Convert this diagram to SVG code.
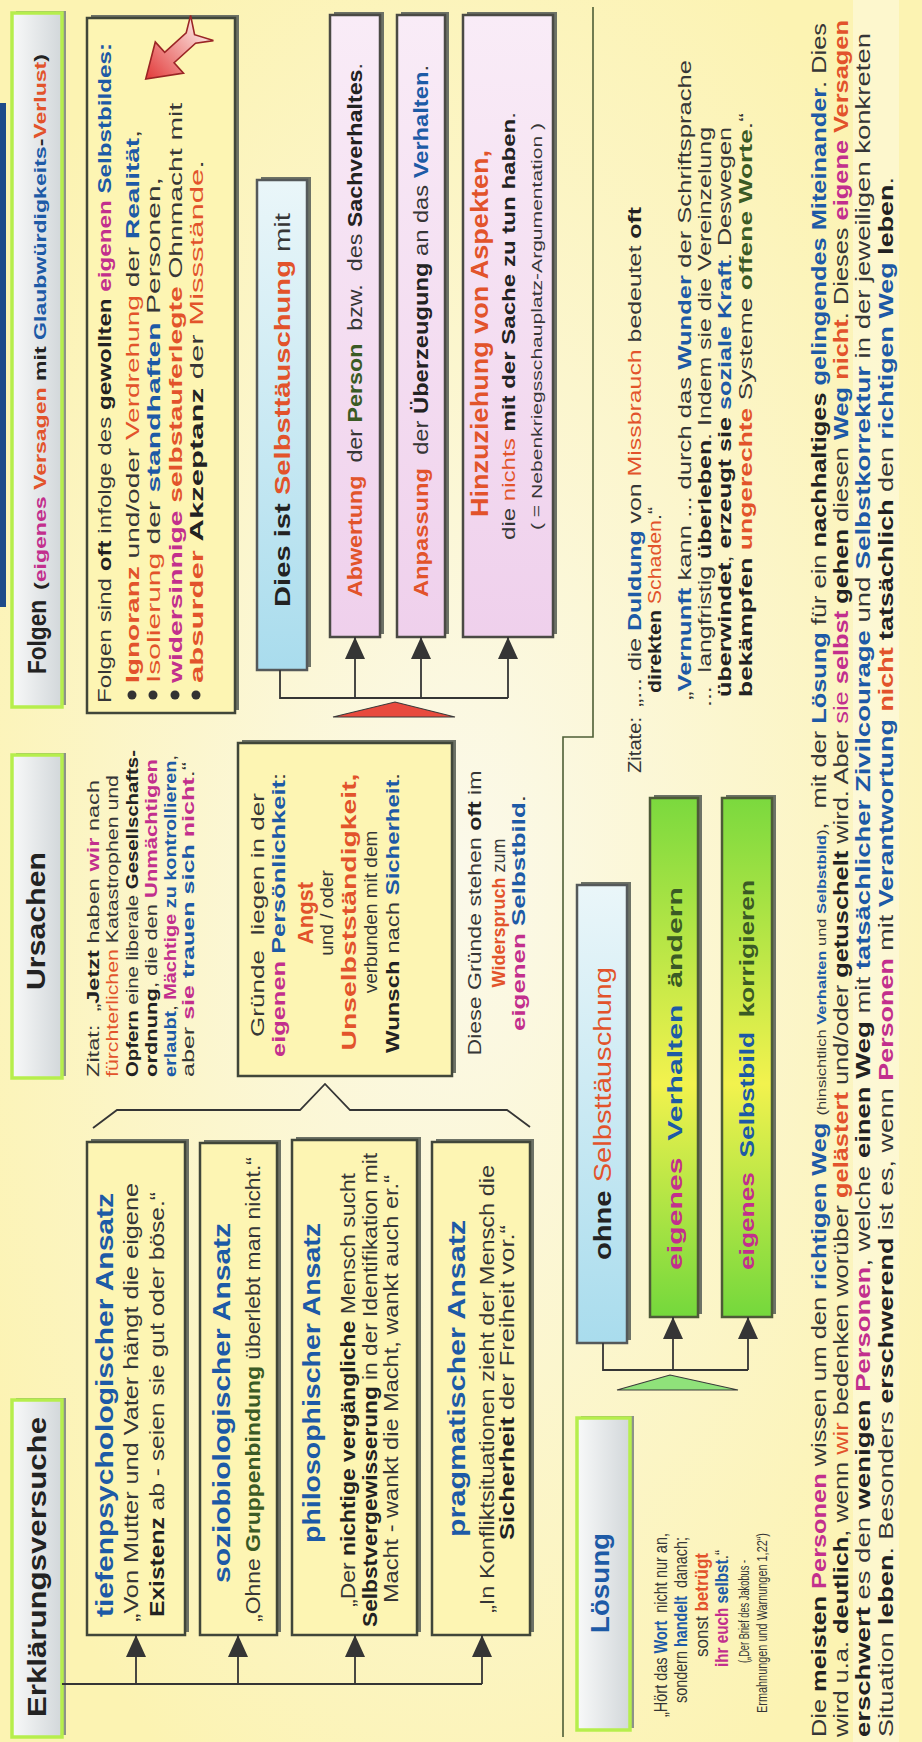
<svg xmlns="http://www.w3.org/2000/svg" width="922" height="1742" viewBox="0 0 922 1742">
<defs>
<style>
text{font-family:"Liberation Sans",Arial,sans-serif;fill:#363636;white-space:pre}
.b{font-weight:bold}
.dk{fill:#222}
.bl{fill:#1d5aa6}
.mg{fill:#c22f8d}
.or{fill:#e2532b}
.gr{fill:#3a5a25}
.box{fill:#fdf5b3;stroke:#40463a;stroke-width:2.5}
.shd{fill:#6d7266}
.tbox{fill:url(#gTitle);stroke:#b6ee4c;stroke-width:3.5}
.tshd{fill:#8d9288}
.pbox{fill:url(#gPink);stroke:#4a4a44;stroke-width:2.5}
.cbox{fill:url(#gCyan);stroke:#55595a;stroke-width:2.5}
.gbox{fill:url(#gGreen);stroke:#4d5a38;stroke-width:2.5}
.ln{fill:none;stroke:#353535;stroke-width:1.8}
.arr{fill:none;stroke:#353535;stroke-width:1.8;marker-end:url(#ah)}
.div{fill:none;stroke:#4e5e36;stroke-width:1.6}
</style>
<marker id="ah" viewBox="0 0 22 20" refX="22" refY="10" markerWidth="22" markerHeight="20" markerUnits="userSpaceOnUse" orient="auto">
<path d="M0,0 L22,10 L0,20 z" fill="#353535"/>
</marker>
<linearGradient id="gTitle" x1="0" y1="0" x2="0" y2="1"><stop offset="0" stop-color="#f8f9f9"/><stop offset="1" stop-color="#d2d7da"/></linearGradient>
<linearGradient id="gCyan" x1="0" y1="0" x2="1" y2="0"><stop offset="0" stop-color="#a9dced"/><stop offset="1" stop-color="#eaf6f9"/></linearGradient>
<linearGradient id="gPink" x1="0" y1="0" x2="1" y2="0"><stop offset="0" stop-color="#efd0ec"/><stop offset="1" stop-color="#f9ecf7"/></linearGradient>
<linearGradient id="gGreen" x1="0" y1="0" x2="1" y2="0"><stop offset="0" stop-color="#74d83c"/><stop offset="0.45" stop-color="#f2f24e"/><stop offset="1" stop-color="#7bd93e"/></linearGradient>
<linearGradient id="gArrow" x1="0" y1="0" x2="1" y2="0"><stop offset="0" stop-color="#fbe2de"/><stop offset="1" stop-color="#e23838"/></linearGradient>
<radialGradient id="gBg" cx="0.5" cy="0.5" r="0.6"><stop offset="0" stop-color="#fbf9ea"/><stop offset="1" stop-color="#fcf3b2"/></radialGradient>
</defs>

<g transform="translate(0,1742) rotate(-90)">
<rect x="0" y="0" width="1742" height="922" fill="url(#gBg)"/>
<rect x="0" y="853" width="1742" height="46" fill="#ffffff" opacity="0.35"/>
<rect x="1135" y="0" width="504" height="6" fill="#1e4a8a"/>

<!-- Erklärungsversuche -->
<g id="title-erklaerung">
<rect x="7" y="16" width="337" height="50" class="tshd"/>
<rect x="5" y="12" width="337" height="50" class="tbox"/>
<text x="25" y="46" font-size="26" class="b dk" textLength="300" lengthAdjust="spacingAndGlyphs">Erklärungsversuche</text>
</g>

<g id="tiefen">
<rect x="110" y="91" width="493" height="98" class="shd"/>
<rect x="107" y="87" width="493" height="98" class="box"/>
<text x="125" y="113" font-size="23" class="b bl" textLength="424" lengthAdjust="spacingAndGlyphs">tiefenpsychologischer Ansatz</text>
<text x="120" y="138" font-size="20" textLength="439" lengthAdjust="spacingAndGlyphs">„Von Mutter und Vater hängt die eigene</text>
<text x="125" y="164" font-size="20" textLength="425" lengthAdjust="spacingAndGlyphs"><tspan class="b dk">Existenz</tspan> ab - seien sie gut oder böse.“</text>
</g>

<g id="sozio">
<rect x="110" y="204" width="492" height="77" class="shd"/>
<rect x="107" y="200" width="492" height="77" class="box"/>
<text x="159" y="230" font-size="23" class="b bl" textLength="360" lengthAdjust="spacingAndGlyphs">soziobiologischer Ansatz</text>
<text x="120" y="260" font-size="20" textLength="465" lengthAdjust="spacingAndGlyphs">„Ohne <tspan class="b gr">Gruppenbindung</tspan> überlebt man nicht.“</text>
</g>

<g id="philo">
<rect x="110" y="296" width="495" height="125" class="shd"/>
<rect x="107" y="292" width="495" height="125" class="box"/>
<text x="199" y="320" font-size="23" class="b bl" textLength="320" lengthAdjust="spacingAndGlyphs">philosophischer Ansatz</text>
<text x="135" y="355" font-size="20" textLength="434" lengthAdjust="spacingAndGlyphs">„Der <tspan class="b dk">nichtige vergängliche</tspan> Mensch sucht</text>
<text x="115" y="377" font-size="20" textLength="474" lengthAdjust="spacingAndGlyphs"><tspan class="b dk">Selbstvergewisserung</tspan> in der Identifikation mit</text>
<text x="139" y="398" font-size="20" textLength="428" lengthAdjust="spacingAndGlyphs">Macht - wankt die Macht, wankt auch er.“</text>
</g>

<g id="prag">
<rect x="110" y="436" width="493" height="98" class="shd"/>
<rect x="107" y="432" width="493" height="98" class="box"/>
<text x="205" y="465" font-size="23" class="b bl" textLength="317" lengthAdjust="spacingAndGlyphs">pragmatischer Ansatz</text>
<text x="129" y="494" font-size="20" textLength="448" lengthAdjust="spacingAndGlyphs">„In Konfliktsituationen zieht der Mensch die</text>
<text x="202" y="514" font-size="20" textLength="315" lengthAdjust="spacingAndGlyphs"><tspan class="b dk">Sicherheit</tspan> der Freiheit vor.“</text>
</g>

<!-- Ursachen -->
<g id="title-ursachen">
<rect x="666" y="16" width="323" height="50" class="tshd"/>
<rect x="664" y="12" width="323" height="50" class="tbox"/>
<text x="752" y="45" font-size="26" class="b dk" textLength="138" lengthAdjust="spacingAndGlyphs">Ursachen</text>
</g>

<g id="zitat-ursachen">
<text x="665" y="99" font-size="17" textLength="297" lengthAdjust="spacingAndGlyphs">Zitat:  „<tspan class="b dk">Jetzt</tspan> haben <tspan class="b mg">wir</tspan> nach</text>
<text x="665" y="118" font-size="17" textLength="302" lengthAdjust="spacingAndGlyphs"><tspan class="or">fürchterlichen</tspan> Katastrophen und</text>
<text x="665" y="138" font-size="17" textLength="327" lengthAdjust="spacingAndGlyphs"><tspan class="b dk">Opfern</tspan> eine liberale <tspan class="b dk">Gesellschafts-</tspan></text>
<text x="665" y="157" font-size="17" textLength="318" lengthAdjust="spacingAndGlyphs"><tspan class="b dk">ordnung</tspan>, die den <tspan class="b mg">Unmächtigen</tspan></text>
<text x="665" y="176" font-size="17" textLength="322" lengthAdjust="spacingAndGlyphs"><tspan class="b bl">erlaubt</tspan>, <tspan class="b mg">Mächtige</tspan> <tspan class="b bl">zu kontrollieren</tspan>,</text>
<text x="665" y="194" font-size="17" textLength="315" lengthAdjust="spacingAndGlyphs">aber <tspan class="b mg">sie</tspan> <tspan class="b bl">trauen sich</tspan> <tspan class="b mg">nicht</tspan>.“</text>
</g>

<g id="gruende">
<rect x="669" y="242" width="333" height="214" class="shd"/>
<rect x="666" y="238" width="333" height="214" class="box"/>
<text x="827" y="264" font-size="19" text-anchor="middle" textLength="244" lengthAdjust="spacingAndGlyphs">Gründe  liegen in der</text>
<text x="827" y="285" font-size="19" text-anchor="middle" textLength="284" lengthAdjust="spacingAndGlyphs"><tspan class="b mg">eigenen</tspan> <tspan class="b bl">Persönlichkeit</tspan>:</text>
<text x="829" y="313" font-size="22" text-anchor="middle" class="b or">Angst</text>
<text x="829" y="333" font-size="19" text-anchor="middle">und / oder</text>
<text x="830" y="356" font-size="21" text-anchor="middle" class="b or" textLength="277" lengthAdjust="spacingAndGlyphs">Unselbstständigkeit,</text>
<text x="830" y="377" font-size="19" text-anchor="middle">verbunden mit dem</text>
<text x="829" y="399" font-size="19" text-anchor="middle" textLength="280" lengthAdjust="spacingAndGlyphs"><tspan class="b dk">Wunsch</tspan> nach <tspan class="b bl">Sicherheit</tspan>.</text>
</g>

<g id="widerspruch">
<text x="829" y="481" font-size="18" text-anchor="middle" textLength="285" lengthAdjust="spacingAndGlyphs">Diese Gründe stehen <tspan class="b dk">oft</tspan> im</text>
<text x="829" y="505" font-size="18" text-anchor="middle"><tspan class="b or">Widerspruch</tspan> zum</text>
<text x="829" y="525" font-size="18" text-anchor="middle" textLength="236" lengthAdjust="spacingAndGlyphs"><tspan class="b mg">eigenen</tspan> <tspan class="b bl">Selbstbild</tspan>.</text>
</g>

<!-- Folgen -->
<g id="title-folgen">
<rect x="1037" y="16" width="694" height="50" class="tshd"/>
<rect x="1035" y="12" width="694" height="50" class="tbox"/>
<text x="1068" y="46" font-size="25" class="b dk" textLength="74" lengthAdjust="spacingAndGlyphs">Folgen</text>
<text x="1152" y="46" font-size="17" class="b dk" textLength="536" lengthAdjust="spacingAndGlyphs">(<tspan class="mg">eigenes</tspan> <tspan class="or">Versagen</tspan> mit <tspan class="bl">Glaubwürdigkeits</tspan>-<tspan class="or">Verlust</tspan>)</text>
</g>

<g id="folgen-box">
<rect x="1032" y="91" width="695" height="148" class="shd"/>
<rect x="1029" y="87" width="695" height="148" class="box"/>
<text x="1039" y="111" font-size="19" textLength="660" lengthAdjust="spacingAndGlyphs">Folgen sind <tspan class="b dk">oft</tspan> infolge des <tspan class="b dk">gewollten</tspan> <tspan class="b mg">eigenen</tspan> <tspan class="b bl">Selbstbildes:</tspan></text>
<circle cx="1047" cy="132" r="4.5" fill="#333"/>
<circle cx="1047" cy="153" r="4.5" fill="#333"/>
<circle cx="1047" cy="175" r="4.5" fill="#333"/>
<circle cx="1047" cy="196" r="4.5" fill="#333"/>
<text x="1059" y="139" font-size="19" textLength="553" lengthAdjust="spacingAndGlyphs"><tspan class="b or">Ignoranz</tspan> und/oder <tspan class="or">Verdrehung</tspan> der <tspan class="b bl">Realität</tspan>,</text>
<text x="1059" y="160" font-size="19" textLength="506" lengthAdjust="spacingAndGlyphs"><tspan class="or">Isolierung</tspan> der <tspan class="b bl">standhaften</tspan> Personen,</text>
<text x="1059" y="182" font-size="19" textLength="580" lengthAdjust="spacingAndGlyphs"><tspan class="b mg">widersinnige</tspan> <tspan class="b or">selbstauferlegte</tspan> Ohnmacht mit</text>
<text x="1059" y="203" font-size="19" textLength="523" lengthAdjust="spacingAndGlyphs"><tspan class="b or">absurder</tspan> <tspan class="b dk">Akzeptanz</tspan> der <tspan class="or">Missstände</tspan>.</text>
<polygon transform="translate(1714,202) rotate(-132.2)" points="0,-17 15,-7 44,-7 44,-21 76,0 44,21 44,7 15,7 0,17 10,0" fill="url(#gArrow)" stroke="#9a2525" stroke-width="1.6"/>
</g>

<g id="selbsttaeuschung">
<rect x="1075" y="261" width="490" height="50" class="shd"/>
<rect x="1072" y="257" width="490" height="50" class="cbox"/>
<text x="1135" y="290" font-size="22" textLength="394" lengthAdjust="spacingAndGlyphs"><tspan class="b dk">Dies ist</tspan> <tspan class="b or">Selbsttäuschung</tspan> mit</text>
</g>

<g id="abwertung">
<rect x="1108" y="334" width="622" height="50" class="shd"/>
<rect x="1105" y="330" width="622" height="50" class="pbox"/>
<text x="1145" y="362" font-size="20" textLength="534" lengthAdjust="spacingAndGlyphs"><tspan class="b or">Abwertung</tspan>  der <tspan class="b gr">Person</tspan>  bzw.  des <tspan class="b dk">Sachverhaltes</tspan>.</text>
</g>

<g id="anpassung">
<rect x="1108" y="401" width="622" height="48" class="shd"/>
<rect x="1105" y="397" width="622" height="48" class="pbox"/>
<text x="1145" y="428" font-size="20" textLength="532" lengthAdjust="spacingAndGlyphs"><tspan class="b or">Anpassung</tspan>  der <tspan class="b dk">Überzeugung</tspan> an das <tspan class="b bl">Verhalten</tspan>.</text>
</g>

<g id="hinzuziehung">
<rect x="1108" y="467" width="622" height="90" class="shd"/>
<rect x="1105" y="463" width="622" height="90" class="pbox"/>
<text x="1225" y="488" font-size="23" class="b or" textLength="367" lengthAdjust="spacingAndGlyphs">Hinzuziehung von Aspekten,</text>
<text x="1202" y="515" font-size="19" textLength="428" lengthAdjust="spacingAndGlyphs">die <tspan class="or">nichts</tspan> <tspan class="b dk">mit der Sache zu tun haben</tspan>.</text>
<text x="1212" y="542" font-size="15" textLength="407" lengthAdjust="spacingAndGlyphs">( = Nebenkriegsschauplatz-Argumentation )</text>
</g>

<g id="zitate-folgen">
<text x="969" y="641" font-size="18" textLength="56" lengthAdjust="spacingAndGlyphs">Zitate:</text>
<text x="1035" y="641" font-size="19" textLength="500" lengthAdjust="spacingAndGlyphs">„... die <tspan class="b bl">Duldung</tspan> von <tspan class="or">Missbrauch</tspan> bedeutet <tspan class="b dk">oft</tspan></text>
<text x="1049" y="661" font-size="19" textLength="186" lengthAdjust="spacingAndGlyphs"><tspan class="b dk">direkten</tspan> <tspan class="or">Schaden</tspan>.“</text>
<text x="1042" y="691" font-size="19" textLength="640" lengthAdjust="spacingAndGlyphs">„<tspan class="b bl">Vernunft</tspan> kann ... durch das <tspan class="b bl">Wunder</tspan> der Schriftsprache</text>
<text x="1035" y="711" font-size="19" textLength="580" lengthAdjust="spacingAndGlyphs">...  langfristig <tspan class="b dk">überleben</tspan>. Indem sie die Vereinzelung</text>
<text x="1045" y="731" font-size="19" textLength="570" lengthAdjust="spacingAndGlyphs"><tspan class="b dk">überwindet</tspan>, <tspan class="b dk">erzeugt sie</tspan> <tspan class="b bl">soziale Kraft</tspan>. Deswegen</text>
<text x="1045" y="752" font-size="19" textLength="584" lengthAdjust="spacingAndGlyphs"><tspan class="b dk">bekämpfen</tspan> <tspan class="b or">ungerechte</tspan> Systeme <tspan class="b gr">offene Worte</tspan>.“</text>
</g>

<!-- Lösung -->
<g id="title-loesung">
<rect x="14" y="581" width="312" height="53" class="tshd"/>
<rect x="12" y="577" width="312" height="53" class="tbox"/>
<text x="109" y="609" font-size="26" class="b bl" textLength="100" lengthAdjust="spacingAndGlyphs">Lösung</text>
</g>

<g id="zitat-loesung">
<text x="25" y="667" font-size="19" textLength="184" lengthAdjust="spacingAndGlyphs">„Hört das <tspan class="b bl">Wort</tspan>  nicht nur an,</text>
<text x="39" y="687" font-size="19" textLength="166" lengthAdjust="spacingAndGlyphs">sondern <tspan class="b bl">handelt</tspan>  danach;</text>
<text x="85" y="708" font-size="19" textLength="104" lengthAdjust="spacingAndGlyphs">sonst <tspan class="b or">betrügt</tspan></text>
<text x="75" y="728" font-size="19" textLength="117" lengthAdjust="spacingAndGlyphs"><tspan class="b mg">ihr euch</tspan> <tspan class="b bl">selbst</tspan>.“</text>
<text x="79" y="749" font-size="14" textLength="103" lengthAdjust="spacingAndGlyphs">(„Der Brief des Jakobus -</text>
<text x="29" y="767" font-size="14" textLength="180" lengthAdjust="spacingAndGlyphs">Ermahnungen und Warnungen 1,22“)</text>
</g>

<g id="ohne">
<rect x="402" y="581" width="458" height="50" class="shd"/>
<rect x="399" y="577" width="458" height="50" class="cbox"/>
<text x="482" y="611" font-size="23" textLength="293" lengthAdjust="spacingAndGlyphs"><tspan class="b dk">ohne</tspan> <tspan class="or">Selbsttäuschung</tspan></text>
</g>

<g id="verhalten">
<rect x="428" y="654" width="519" height="48" class="shd"/>
<rect x="425" y="650" width="519" height="48" class="gbox"/>
<text x="472" y="682" font-size="21" textLength="383" lengthAdjust="spacingAndGlyphs"><tspan class="b mg">eigenes</tspan>  <tspan class="b bl">Verhalten</tspan>  <tspan class="b gr">ändern</tspan></text>
</g>

<g id="selbstbild">
<rect x="428" y="726" width="519" height="50" class="shd"/>
<rect x="425" y="722" width="519" height="50" class="gbox"/>
<text x="472" y="754" font-size="21" textLength="390" lengthAdjust="spacingAndGlyphs"><tspan class="b mg">eigenes</tspan>  <tspan class="b bl">Selbstbild</tspan>  <tspan class="b gr">korrigieren</tspan></text>
</g>

<g id="schluss">
<text x="5" y="826" font-size="20" textLength="1714" lengthAdjust="spacingAndGlyphs">Die <tspan class="b dk">meisten</tspan> <tspan class="b mg">Personen</tspan> wissen um den <tspan class="b bl">richtigen Weg</tspan> <tspan font-size="13">(hinsichtlich <tspan class="b bl">Verhalten</tspan> und <tspan class="b bl">Selbstbild</tspan>)</tspan>,  mit der <tspan class="b bl">Lösung</tspan> für ein <tspan class="b dk">nachhaltiges</tspan> <tspan class="b bl">gelingendes</tspan> <tspan class="b bl">Miteinander</tspan>. Dies</text>
<text x="5" y="848" font-size="20" textLength="1717" lengthAdjust="spacingAndGlyphs">wird u.a. <tspan class="b dk">deutlich</tspan>, wenn <tspan class="or">wir</tspan> bedenken worüber <tspan class="b or">gelästert</tspan> und/oder <tspan class="b dk">getuschelt</tspan> wird. Aber <tspan class="mg">sie</tspan> <tspan class="b mg">selbst</tspan> <tspan class="b dk">gehen</tspan> diesen <tspan class="b bl">Weg</tspan> <tspan class="b or">nicht</tspan>. Dieses <tspan class="b mg">eigene</tspan> <tspan class="b or">Versagen</tspan></text>
<text x="5" y="870" font-size="20" textLength="1704" lengthAdjust="spacingAndGlyphs"><tspan class="b dk">erschwert</tspan> es den <tspan class="b dk">wenigen</tspan> <tspan class="b mg">Personen</tspan>, welche <tspan class="b dk">einen Weg</tspan> mit <tspan class="b bl">tatsächlicher Zivilcourage</tspan> und <tspan class="b bl">Selbstkorrektur</tspan> in der jeweiligen konkreten</text>
<text x="5" y="893" font-size="20" textLength="1560" lengthAdjust="spacingAndGlyphs">Situation <tspan class="b dk">leben</tspan>. Besonders <tspan class="b dk">erschwerend</tspan> ist es, wenn <tspan class="b mg">Personen</tspan> mit <tspan class="b bl">Verantwortung</tspan> <tspan class="b or">nicht</tspan> <tspan class="b dk">tatsächlich</tspan> den <tspan class="b bl">richtigen Weg</tspan> <tspan class="b dk">leben</tspan>.</text>
</g>

<g id="connectors">
<polyline class="div" points="1735,593 1005,593 1005,563 5,563"/>
<path class="ln" d="M614,93 L632,117 L632,300 L658,325 L632,350 L632,507 L615,530" stroke-width="2.5"/>
<line class="ln" x1="58" y1="62" x2="58" y2="482"/>
<line class="arr" x1="58" y1="136" x2="107" y2="136"/>
<line class="arr" x1="58" y1="238" x2="107" y2="238"/>
<line class="arr" x1="58" y1="355" x2="107" y2="355"/>
<line class="arr" x1="58" y1="482" x2="107" y2="482"/>
<polyline class="ln" points="1072,280 1044,280 1044,508"/>
<line class="arr" x1="1044" y1="355" x2="1105" y2="355"/>
<line class="arr" x1="1044" y1="421" x2="1105" y2="421"/>
<line class="arr" x1="1044" y1="508" x2="1105" y2="508"/>
<polygon points="1025,333 1025,455 1040,395" fill="#e84a3e" stroke="#3a3a3a" stroke-width="1.2"/>
<polyline class="ln" points="399,603 372,603 372,748"/>
<line class="arr" x1="372" y1="673" x2="425" y2="673"/>
<line class="arr" x1="372" y1="748" x2="425" y2="748"/>
<polygon points="352,617 352,738 367,670" fill="#8fe27a" stroke="#3a3a3a" stroke-width="1.2"/>
</g>
</g>
</svg>
